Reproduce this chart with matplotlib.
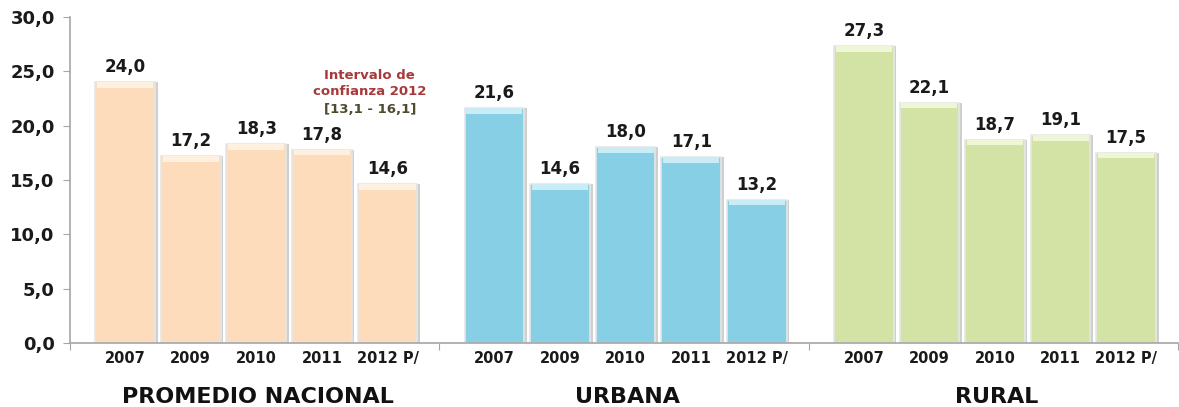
import matplotlib

matplotlib.use("Agg")
import matplotlib.pyplot as plt
import numpy as np

groups = ["PROMEDIO NACIONAL", "URBANA", "RURAL"]
years = ["2007", "2009", "2010", "2011", "2012 P/"]
nacional = [24.0, 17.2, 18.3, 17.8, 14.6]
urbana = [21.6, 14.6, 18.0, 17.1, 13.2]
rural = [27.3, 22.1, 18.7, 19.1, 17.5]
series = [nacional, urbana, rural]
colors = ["#fddcbb", "#86cfe4", "#d3e3a6"]
top_colors = ["#fff1e2", "#c9ecf6", "#eef6d6"]

group_width = 5.63
first_offset = 0.84
bar_width = 0.91

plt.rcParams["font.family"] = "DejaVu Sans"
fig = plt.figure(figsize=(11.79, 4.07), dpi=100)
ax = fig.add_axes([70 / 1179, 64 / 407, 1108 / 1179, 326 / 407])

for g, (vals, col, tcol) in enumerate(zip(series, colors, top_colors)):
    xs = g * group_width + first_offset + np.arange(len(vals))
    # soft shadow edge, main body, lighter bevel at the top
    ax.bar(xs + 0.04, vals, width=bar_width, color="#cfcfcf", zorder=1)
    ax.bar(xs, vals, width=bar_width, color=col, edgecolor="#e6e6e6", linewidth=1.2, zorder=2)
    ax.bar(xs, [0.5] * len(vals), bottom=np.array(vals) - 0.5, width=bar_width * 0.94,
           color=tcol, zorder=3)
    for i, (x, v) in enumerate(zip(xs, vals)):
        ax.text(x, v + 0.55, f"{v:.1f}".replace(".", ","), ha="center", va="bottom",
                fontsize=12, fontweight="bold", color="#1a1a1a")
        ax.text(x, -1.4, years[i], ha="center", va="center",
                fontsize=10.5, fontweight="bold", color="#1a1a1a")
    ax.text(g * group_width + group_width / 2 + 0.05, -5.0, groups[g], ha="center", va="center",
            fontsize=16, fontweight="bold", color="#111111")

ax.text(4.57, 24.6, "Intervalo de", ha="center", va="center",
        fontsize=9.5, fontweight="bold", color="#a8393a")
ax.text(4.57, 23.1, "confianza 2012", ha="center", va="center",
        fontsize=9.5, fontweight="bold", color="#a8393a")
ax.text(4.57, 21.5, "[13,1 - 16,1]", ha="center", va="center",
        fontsize=9.5, fontweight="bold", color="#4f4a2c")

ax.set_ylim(0, 30)
ax.set_xlim(0, 3 * group_width)
ax.set_yticks(np.arange(0, 31, 5))
ax.set_yticklabels([f"{t:.1f}".replace(".", ",") for t in np.arange(0, 31, 5)],
                   fontsize=13, fontweight="bold", color="#1a1a1a")
ax.set_xticks([group_width * g for g in range(4)])
ax.set_xticklabels([])
ax.tick_params(axis="y", length=5, color="#a6a6a6", pad=6)
ax.tick_params(axis="x", length=5, color="#a6a6a6")
for side in ["top", "right"]:
    ax.spines[side].set_visible(False)
for side in ["left", "bottom"]:
    ax.spines[side].set_color("#a6a6a6")
    ax.spines[side].set_linewidth(1.2)

fig.savefig("out.png", dpi=100)
